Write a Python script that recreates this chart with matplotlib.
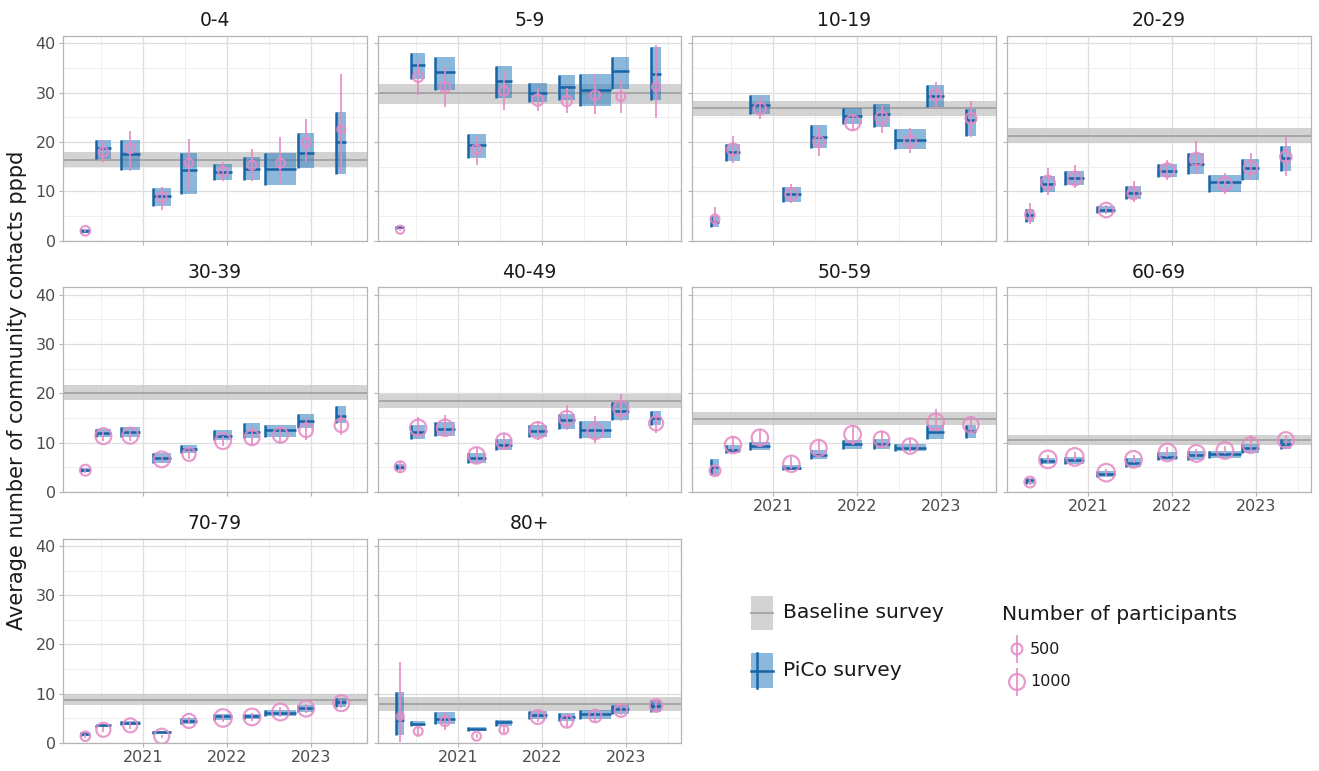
import matplotlib.pyplot as plt
import numpy as np
from matplotlib.patches import Rectangle

# age groups, one panel each
age_groups = ["0-4", "5-9", "10-19", "20-29", "30-39", "40-49", "50-59", "60-69", "70-79", "80+"]

# PiCo survey rounds (decimal years)
survey_start = [2020.26, 2020.44, 2020.73, 2021.115, 2021.45, 2021.84, 2022.20, 2022.45, 2022.84, 2023.30]
survey_end = [2020.36, 2020.61, 2020.96, 2021.33, 2021.64, 2022.06, 2022.39, 2022.82, 2023.04, 2023.42]
point_date = [2020.31, 2020.525, 2020.845, 2021.22, 2021.545, 2021.95, 2022.295, 2022.635, 2022.94, 2023.36]

# PiCo survey estimate (box) per age group: lower, middle, upper
pico_lo = [
    [1.6, 16.6, 14.3, 7.1, 9.5, 12.2, 12.2, 11.3, 14.8, 13.5],
    [2.3, 32.7, 30.5, 16.7, 28.9, 28.2, 28.6, 27.3, 30.7, 28.6],
    [2.8, 16.2, 25.7, 7.9, 18.7, 23.6, 23.1, 18.6, 27.0, 21.2],
    [3.7, 9.9, 11.3, 5.5, 8.4, 12.8, 13.5, 9.9, 12.2, 14.2],
    [4.0, 11.1, 11.1, 5.9, 7.8, 10.5, 10.9, 11.1, 13.0, 13.9],
    [4.4, 10.8, 11.4, 5.9, 8.4, 11.1, 12.7, 10.9, 14.5, 13.5],
    [3.4, 7.8, 8.4, 4.4, 6.6, 8.8, 8.8, 8.3, 10.8, 11.0],
    [1.6, 5.6, 5.6, 3.0, 5.1, 6.4, 6.4, 6.9, 7.9, 8.8],
    [1.4, 3.2, 3.6, 1.9, 3.9, 4.7, 4.9, 5.4, 6.3, 7.4],
    [1.7, 3.4, 3.9, 2.5, 3.5, 4.9, 4.5, 4.9, 5.9, 6.4],
]
pico_mid = [
    [2.0, 18.7, 17.6, 9.1, 14.3, 13.9, 14.5, 14.5, 17.8, 19.9],
    [2.8, 35.6, 34.1, 19.4, 32.4, 30.0, 31.2, 30.5, 34.3, 33.7],
    [3.7, 17.9, 27.5, 9.4, 21.1, 25.3, 25.7, 20.5, 29.4, 24.5],
    [5.1, 11.5, 12.6, 6.2, 9.6, 14.2, 15.5, 11.8, 14.7, 16.8],
    [4.4, 12.0, 12.2, 6.8, 8.8, 11.4, 12.2, 12.5, 14.3, 15.4],
    [5.1, 12.2, 12.7, 6.8, 9.6, 12.3, 14.5, 12.5, 16.4, 14.9],
    [5.1, 8.6, 9.3, 4.9, 7.4, 9.7, 9.8, 9.0, 12.2, 12.4],
    [2.4, 6.3, 6.4, 3.7, 5.9, 7.1, 7.4, 7.6, 8.9, 9.8],
    [1.8, 3.6, 4.1, 2.2, 4.5, 5.4, 5.4, 6.1, 7.1, 8.3],
    [4.7, 3.9, 4.9, 2.9, 4.2, 5.7, 5.3, 5.9, 6.9, 7.6],
]
pico_hi = [
    [2.3, 20.4, 20.4, 10.6, 17.7, 15.5, 17.0, 17.7, 21.8, 26.1],
    [3.0, 38.1, 37.3, 21.6, 35.4, 31.9, 33.6, 33.8, 37.3, 39.3],
    [4.9, 19.6, 29.5, 10.8, 23.4, 26.8, 27.7, 22.6, 31.6, 26.6],
    [6.4, 13.2, 14.2, 7.1, 11.1, 15.5, 17.7, 13.3, 16.6, 19.1],
    [4.9, 12.8, 13.2, 7.8, 9.5, 12.6, 13.9, 13.6, 15.9, 17.4],
    [5.6, 13.5, 14.2, 7.8, 10.7, 13.5, 15.9, 14.3, 18.2, 16.4],
    [6.6, 9.6, 10.1, 5.4, 8.4, 10.5, 10.7, 9.8, 13.6, 13.5],
    [2.8, 6.9, 7.1, 4.3, 6.8, 8.0, 8.2, 8.2, 9.8, 10.8],
    [2.2, 3.7, 4.5, 2.5, 5.1, 5.9, 5.9, 6.8, 7.8, 9.1],
    [10.3, 4.4, 6.3, 3.2, 4.7, 6.6, 6.1, 6.8, 7.8, 8.8],
]

# raw survey mean with interval (pink points)
raw_mean = [
    [2.0, 18.0, 18.7, 8.8, 15.8, 14.0, 15.3, 15.7, 19.9, 22.6],
    [2.2, 33.2, 31.1, 18.5, 30.4, 28.5, 28.3, 29.5, 29.2, 31.2],
    [4.4, 18.5, 26.8, 9.4, 20.1, 23.9, 24.9, 20.1, 29.5, 24.8],
    [5.2, 11.8, 12.6, 6.2, 9.6, 14.3, 16.5, 11.5, 14.8, 17.0],
    [4.4, 11.3, 11.4, 6.6, 7.6, 10.3, 11.0, 11.5, 12.5, 13.5],
    [5.1, 13.0, 13.0, 7.4, 10.3, 12.5, 14.9, 12.3, 16.9, 13.9],
    [4.3, 9.5, 11.0, 5.7, 8.9, 11.7, 10.7, 9.3, 14.2, 13.6],
    [2.0, 6.6, 7.1, 3.9, 6.6, 8.0, 7.8, 8.4, 9.5, 10.5],
    [1.4, 2.7, 3.6, 1.4, 4.5, 5.1, 5.3, 6.3, 7.0, 8.1],
    [5.4, 2.4, 4.4, 1.4, 2.7, 5.3, 4.4, 5.5, 6.6, 7.6],
]
raw_lo = [
    [1.7, 15.9, 14.2, 6.2, 10.1, 12.0, 12.0, 11.5, 16.0, 13.8],
    [1.9, 29.5, 27.0, 15.3, 26.4, 26.3, 25.9, 25.6, 25.8, 24.9],
    [2.8, 15.8, 24.6, 7.6, 17.2, 22.5, 21.8, 17.8, 26.6, 21.1],
    [3.4, 9.3, 10.6, 5.3, 7.9, 12.3, 13.6, 9.4, 12.3, 13.2],
    [3.9, 10.3, 10.4, 5.8, 6.7, 9.3, 9.5, 10.0, 10.5, 11.5],
    [3.8, 11.5, 11.3, 6.1, 8.8, 10.5, 12.5, 10.0, 14.3, 11.9],
    [3.4, 8.2, 9.1, 4.7, 7.7, 9.5, 9.1, 8.1, 12.3, 11.9],
    [1.5, 5.8, 6.3, 3.2, 5.8, 7.1, 7.0, 7.6, 8.3, 9.6],
    [1.0, 2.2, 2.9, 1.1, 3.8, 4.3, 4.5, 5.3, 6.1, 7.2],
    [0.3, 1.7, 2.6, 1.0, 2.0, 4.2, 3.3, 4.3, 5.6, 6.5],
]
raw_hi = [
    [2.3, 20.4, 22.3, 10.9, 20.7, 16.0, 18.6, 21.1, 24.7, 33.8],
    [2.5, 36.4, 35.3, 21.2, 34.3, 30.9, 30.9, 33.7, 32.6, 39.7],
    [6.8, 21.2, 29.2, 11.5, 23.2, 25.5, 27.5, 22.8, 32.2, 28.3],
    [7.6, 14.7, 15.3, 7.2, 12.0, 16.4, 20.2, 13.8, 17.7, 21.1],
    [4.9, 12.3, 12.4, 7.4, 8.7, 11.4, 13.2, 13.3, 14.9, 15.9],
    [6.3, 15.2, 15.5, 9.1, 11.8, 14.3, 17.6, 15.4, 19.9, 16.2],
    [5.4, 11.4, 12.7, 7.0, 10.6, 13.5, 12.4, 10.8, 16.9, 15.3],
    [2.6, 7.5, 8.0, 4.6, 7.5, 9.1, 8.8, 9.3, 11.6, 11.5],
    [1.8, 3.2, 4.4, 1.7, 5.2, 5.9, 6.1, 7.3, 7.9, 9.0],
    [16.4, 3.1, 6.4, 1.8, 3.4, 6.5, 5.5, 6.9, 7.9, 8.8],
]
n_participants = [
    [400, 400, 400, 400, 300, 400, 350, 350, 350, 300],
    [300, 450, 450, 400, 400, 550, 450, 400, 350, 300],
    [350, 600, 600, 600, 500, 900, 600, 600, 500, 500],
    [400, 750, 750, 850, 600, 750, 700, 750, 700, 550],
    [500, 1000, 1000, 1000, 700, 1000, 900, 900, 750, 750],
    [500, 1050, 1050, 1050, 950, 1050, 900, 1000, 900, 800],
    [500, 1050, 1050, 1050, 1050, 1100, 950, 950, 1050, 950],
    [500, 1200, 1200, 1200, 1100, 1200, 1100, 1100, 1000, 1000],
    [400, 800, 800, 900, 800, 1200, 1100, 1100, 1000, 1000],
    [250, 350, 400, 350, 350, 800, 650, 650, 650, 650],
]

# baseline survey per age group
base_mid = [16.4, 29.9, 26.8, 21.2, 20.1, 18.4, 14.7, 10.5, 8.8, 7.9]
base_lo = [14.9, 27.8, 25.3, 19.7, 18.7, 17.0, 13.5, 9.6, 7.8, 6.6]
base_hi = [17.9, 31.8, 28.4, 22.9, 21.6, 19.8, 16.2, 11.6, 10.0, 9.3]

BLUE_FILL = "#2e7fbf"
BLUE_LINE = "#1864a6"
PINK = "#e58ac5"
GREY_BAND = "#c8c8c8"
GREY_LINE = "#a3a3a3"
FRAME = "#b5b5b5"

W, H = 1319, 771


def marker_area(n):
    d_px = 0.55 * np.sqrt(n) - 1.5
    return (d_px * 0.72) ** 2


fig = plt.figure(figsize=(W / 100, H / 100), dpi=100)

col_left = [62.7, 377.5, 692.3, 1007.2]
row_top = [36.0, 287.3, 538.5]
pw, ph = 303.8, 204.6

for i, grp in enumerate(age_groups):
    r, c = divmod(i, 4)
    x0, y0 = col_left[c], row_top[r]
    ax = fig.add_axes([x0 / W, 1 - (y0 + ph) / H, pw / W, ph / H])
    ax.set_xlim(2020.04, 2023.66)
    ax.set_ylim(0, 41.5)

    ax.set_xticks([2021, 2022, 2023])
    ax.set_xticks([2020.5, 2021.5, 2022.5, 2023.5], minor=True)
    ax.set_yticks([0, 10, 20, 30, 40])
    ax.set_yticks([5, 15, 25, 35], minor=True)
    ax.grid(True, which="major", color="#dedede", linewidth=0.9)
    ax.grid(True, which="minor", color="#ededed", linewidth=0.6)
    ax.set_axisbelow(True)
    for sp in ax.spines.values():
        sp.set_color(FRAME)
        sp.set_linewidth(0.9)
    ax.tick_params(which="major", length=3, color=FRAME, labelsize=11.5,
                   labelcolor="#4d4d4d", pad=2)
    ax.tick_params(which="minor", length=0)

    bottom_row = (r == 2) or (r == 1 and c >= 2)
    if not bottom_row:
        ax.tick_params(axis="x", labelbottom=False)
    else:
        ax.set_xticklabels(["2021", "2022", "2023"])
    if c != 0:
        ax.tick_params(axis="y", labelleft=False)

    # baseline survey band
    ax.axhspan(base_lo[i], base_hi[i], color=GREY_BAND, alpha=0.8, lw=0, zorder=1)
    ax.axhline(base_mid[i], color=GREY_LINE, lw=1.3, zorder=1.5)

    # PiCo survey boxes
    for k in range(len(survey_start)):
        s, e = survey_start[k], survey_end[k]
        lo, mid, hi = pico_lo[i][k], pico_mid[i][k], pico_hi[i][k]
        ax.add_patch(Rectangle((s, lo), e - s, hi - lo, facecolor=BLUE_FILL,
                               alpha=0.55, lw=0, zorder=2))
        ax.plot([s, s], [lo, hi], color=BLUE_LINE, lw=1.8, zorder=3,
                solid_capstyle="butt")
        ax.plot([s, e], [mid, mid], color=BLUE_LINE, lw=1.8, zorder=3,
                solid_capstyle="butt")

    # raw survey points
    ax.vlines(point_date, raw_lo[i], raw_hi[i], color=PINK, lw=1.4,
              alpha=0.85, zorder=4)
    ax.scatter(point_date, raw_mean[i],
               s=[marker_area(n) for n in n_participants[i]],
               facecolors="none", edgecolors=PINK, linewidths=1.6,
               alpha=0.85, zorder=5)

    fig.text((x0 + pw / 2) / W, 1 - (y0 - 15) / H, grp, ha="center",
             va="center", fontsize=13.5, color="#1a1a1a")

fig.text(17 / W, 1 - 390 / H, "Average number of community contacts pppd",
         rotation=90, ha="center", va="center", fontsize=15, color="#1a1a1a")

# legend drawn in pixel coordinates
lg = fig.add_axes([0, 0, 1, 1], zorder=10)
lg.set_xlim(0, W)
lg.set_ylim(H, 0)
lg.axis("off")
lg.add_patch(Rectangle((751, 596), 22, 34, facecolor=GREY_BAND, alpha=0.8, lw=0))
lg.plot([751, 773], [613, 613], color=GREY_LINE, lw=1.3)
lg.text(783, 613, "Baseline survey", fontsize=14.6, va="center", color="#1a1a1a")

lg.add_patch(Rectangle((751, 653), 22, 35, facecolor=BLUE_FILL, alpha=0.55, lw=0))
lg.plot([757, 757], [653, 688], color=BLUE_LINE, lw=1.8)
lg.plot([751, 773], [670.5, 670.5], color=BLUE_LINE, lw=1.8)
lg.text(783, 671, "PiCo survey", fontsize=14.6, va="center", color="#1a1a1a")

lg.text(1002, 614, "Number of participants", fontsize=14.6, va="center", color="#1a1a1a")
size_keys = [500, 1000]
size_y = [649, 682]
for n, yy in zip(size_keys, size_y):
    lg.plot([1017, 1017], [yy - 13, yy + 13], color=PINK, lw=1.4, alpha=0.85)
    lg.scatter([1017], [yy], s=marker_area(n), facecolors="none",
               edgecolors=PINK, linewidths=1.6, alpha=0.85)
    lg.text(1030, yy, str(n), fontsize=11.5, va="center", color="#1a1a1a")

fig.savefig("out.png", dpi=100)
